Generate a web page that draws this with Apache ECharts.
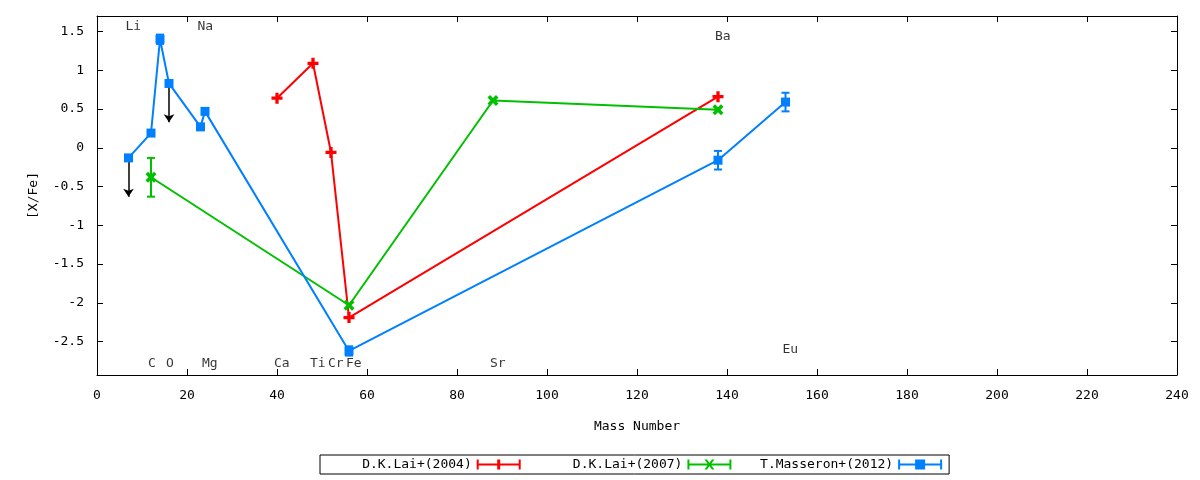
<!DOCTYPE html>
<html><head><meta charset="utf-8">
<script src="https://cdn.jsdelivr.net/npm/echarts@6/dist/echarts.min.js"></script>
<style>html,body{margin:0;padding:0;background:#fff}#c{width:1200px;height:480px}</style>
</head><body><div id="c"></div>
<script>
// ---- data ----
const lai04Name = 'D.K.Lai+(2004)';
const lai04X = [40, 48, 52, 56, 138];
const lai04Y = [0.64, 1.09, -0.06, -2.19, 0.66];
const lai04Err = [0, 0, 0, 0, 0];

const lai07Name = 'D.K.Lai+(2007)';
const lai07X = [12, 56, 88, 138];
const lai07Y = [-0.38, -2.03, 0.61, 0.49];
const lai07Err = [0.25, 0, 0, 0];

const mas12Name = 'T.Masseron+(2012)';
const mas12X = [7, 12, 14, 16, 23, 24, 56, 138, 153];
const mas12Y = [-0.13, 0.19, 1.40, 0.83, 0.27, 0.47, -2.62, -0.16, 0.59];
const mas12Err = [0, 0, 0.06, 0, 0, 0, 0.06, 0.12, 0.12];

const upperLimitX = [7, 16];
const upperLimitY = [-0.13, 0.83];
const upperLimitLength = 0.5;

const elementNames = ['Li', 'C', 'O', 'Na', 'Mg', 'Ca', 'Ti', 'Cr', 'Fe', 'Sr', 'Ba', 'Eu'];
const elementMass  = [7, 12, 16, 23, 24, 40, 48, 52, 56, 88, 138, 153];
const elementLabelY = [1.56, -2.78, -2.78, 1.56, -2.78, -2.78, -2.78, -2.78, -2.78, -2.78, 1.43, -2.6];

const xMin = 0, xMax = 240, xStep = 20;
const yMin = -2.93, yMax = 1.70, yStep = 0.5;

// ---- styling ----
const FONT = 'DejaVu Sans Mono';
const RED = '#ff0000', GREEN = '#00c000', BLUE = '#0080ff';
const plusPath = 'path://M3.5 0h3v3.5h3.5v3h-3.5v3.5h-3v-3.5h-3.5v-3h3.5z';

const iconCaps = 'M0 0h2v10h-2zM0 4h44v2h-44zM42 0h2v10h-2z';
const iconRed = 'path://' + iconCaps + 'M20.5 0h3v10h-3z';
const iconGreen = 'path://' + iconCaps + 'M17 0h2.5l7.5 10h-2.5zM24.5 0h2.5l-7.5 10h-2.5z';
const iconBlue = 'path://' + iconCaps + 'M17 0h10v10h-10z';

function errorBars(name, color, xs, ys, errs) {
  return {
    name: name, type: 'custom', xAxisIndex: 0, yAxisIndex: 0, z: 2,
    itemStyle: { color: color },
    encode: { x: 0, y: 1 },
    data: xs.map((x, i) => [x, ys[i], errs[i]]),
    renderItem: function (params, api) {
      const x = api.value(0), y = api.value(1), e = api.value(2);
      if (!e) return { type: 'group', children: [] };
      const hi = api.coord([x, y + e]), lo = api.coord([x, y - e]);
      const cap = 4;
      const st = { stroke: color, lineWidth: 2, fill: null };
      return { type: 'group', children: [
        { type: 'line', shape: { x1: hi[0], y1: hi[1], x2: lo[0], y2: lo[1] }, style: st },
        { type: 'line', shape: { x1: hi[0] - cap, y1: hi[1], x2: hi[0] + cap, y2: hi[1] }, style: st },
        { type: 'line', shape: { x1: lo[0] - cap, y1: lo[1], x2: lo[0] + cap, y2: lo[1] }, style: st }
      ]};
    }
  };
}

function lineSeries(name, color, xs, ys, symbol, size, rotate) {
  return {
    name: name, type: 'line', xAxisIndex: 0, yAxisIndex: 0, z: 2,
    data: xs.map((x, i) => [x, ys[i]]),
    symbol: symbol, symbolSize: size, symbolRotate: rotate || 0,
    showAllSymbol: true,
    lineStyle: { color: color, width: 2 },
    itemStyle: { color: color },
    emphasis: { disabled: true }
  };
}

const axisCommonX = {
  type: 'value', min: xMin, max: xMax, interval: xStep,
  axisLine: { show: true, onZero: false, lineStyle: { color: '#000', width: 1 } },
  axisTick: { show: true, inside: true, length: 6, lineStyle: { color: '#000' } },
  splitLine: { show: false }
};
const yLabelFmt = v => (Math.abs(v / yStep - Math.round(v / yStep)) < 1e-6 ? String(Math.round(v * 10) / 10) : '');
const axisCommonY = {
  type: 'value', min: yMin, max: yMax, splitNumber: 9,
  axisLine: { show: true, onZero: false, lineStyle: { color: '#000', width: 1 } },
  axisTick: { show: true, inside: true, length: 6, lineStyle: { color: '#000' } },
  splitLine: { show: false }
};

const option = {
  animation: false,
  backgroundColor: '#fff',
  textStyle: { fontFamily: FONT },
  grid: { left: 97, right: 23, top: 16, bottom: 105, containLabel: false },
  xAxis: [
    Object.assign({}, axisCommonX, {
      position: 'bottom', name: 'Mass Number', nameLocation: 'middle', nameGap: 45,
      nameTextStyle: { fontFamily: FONT, fontSize: 13, color: '#000' },
      axisLabel: { show: true, margin: 14, fontFamily: FONT, fontSize: 13, color: '#000' }
    }),
    Object.assign({}, axisCommonX, { position: 'top', axisLabel: { show: false } })
  ],
  yAxis: [
    Object.assign({}, axisCommonY, {
      position: 'left', name: '[X/Fe]', nameLocation: 'middle', nameGap: 57, nameRotate: 90,
      nameTextStyle: { fontFamily: FONT, fontSize: 13, color: '#000' },
      axisLabel: { show: true, margin: 13, fontFamily: FONT, fontSize: 13, color: '#000',
                   showMinLabel: false, showMaxLabel: false, formatter: yLabelFmt }
    }),
    Object.assign({}, axisCommonY, { position: 'right', axisLabel: { show: false } })
  ],
  legend: {
    left: 320, top: 455, orient: 'horizontal', align: 'right',
    padding: [3, 7, 3, 3], itemGap: 13, itemWidth: 44, itemHeight: 10,
    borderColor: '#000', borderWidth: 1, borderRadius: 0,
    selectedMode: false,
    itemStyle: { borderWidth: 0 },
    formatter: name => name.padStart(19, ' '),
    textStyle: { fontFamily: FONT, fontSize: 13, color: '#000' },
    data: [
      { name: lai04Name, icon: iconRed },
      { name: lai07Name, icon: iconGreen },
      { name: mas12Name, icon: iconBlue }
    ]
  },
  series: [
    errorBars(lai04Name, RED, lai04X, lai04Y, lai04Err),
    errorBars(lai07Name, GREEN, lai07X, lai07Y, lai07Err),
    errorBars(mas12Name, BLUE, mas12X, mas12Y, mas12Err),
    {
      type: 'lines', coordinateSystem: 'cartesian2d', xAxisIndex: 0, yAxisIndex: 0, z: 1,
      symbol: ['none', 'arrow'], symbolSize: 8, silent: true,
      lineStyle: { color: '#000', width: 1.5, opacity: 1, curveness: 0 },
      data: upperLimitX.map((x, i) => ({ coords: [[x, upperLimitY[i]], [x, upperLimitY[i] - upperLimitLength]] }))
    },
    lineSeries(lai04Name, RED, lai04X, lai04Y, plusPath, 11, 0),
    lineSeries(lai07Name, GREEN, lai07X, lai07Y, plusPath, 12, 45),
    lineSeries(mas12Name, BLUE, mas12X, mas12Y, 'rect', 9, 0),
    {
      type: 'scatter', xAxisIndex: 0, yAxisIndex: 0, silent: true, symbolSize: 0, z: 4,
      data: elementNames.map((n, i) => ({ name: n, value: [elementMass[i], elementLabelY[i]] })),
      label: { show: true, position: 'inside', align: 'left', verticalAlign: 'middle', offset: [-3, 0],
               formatter: '{b}', fontFamily: FONT, fontSize: 13, color: '#000' }
    }
  ]
};

const chart = echarts.init(document.getElementById('c'), null, { renderer: 'canvas' });
chart.setOption(option);
</script></body></html>
